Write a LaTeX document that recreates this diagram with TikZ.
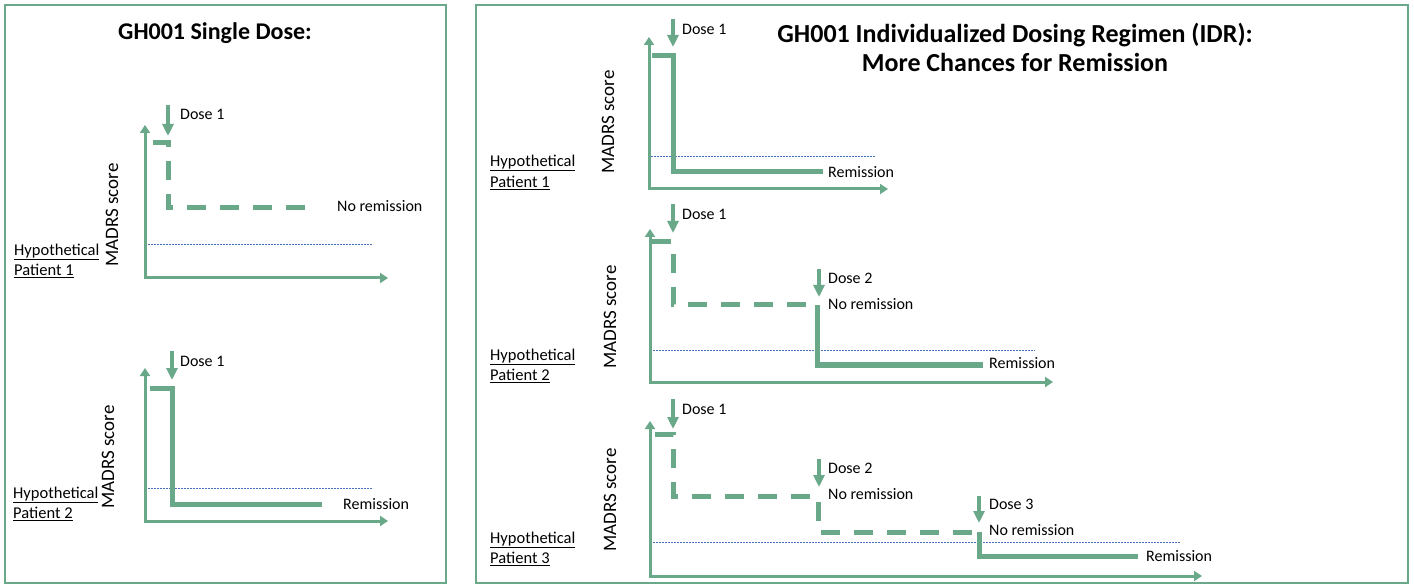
\documentclass[tikz,border=0pt]{standalone}
\usepackage{fontspec}
\setmainfont{Carlito}
\usetikzlibrary{arrows.meta}

\definecolor{madgreen}{RGB}{106,168,138}
\definecolor{cutblue}{RGB}{70,110,190}

\tikzset{
  panel/.style={draw=madgreen, line width=2pt},
  axisline/.style={draw=madgreen, line width=3pt, {Triangle[width=10pt,length=8pt]}-{Triangle[width=10pt,length=8pt]}},
  course/.style={draw=madgreen, line width=5pt},
  nocourse/.style={course, dash pattern=on 19pt off 14pt},
  dosearrow/.style={draw=madgreen, line width=3.5pt, -{Triangle[width=11pt,length=12pt]}},
  cutoff/.style={draw=cutblue, line width=0.7pt, dash pattern=on 2pt off 1pt},
  lbl/.style={anchor=west, inner sep=0pt, font=\fontsize{16}{16}\selectfont},
  ylbl/.style={rotate=90, inner sep=0pt, font=\fontsize{19}{19}\selectfont},
  ptlbl/.style={anchor=west, inner sep=0pt, font=\fontsize{16.5}{19}\selectfont},
  headline/.style={font=\fontsize{24}{29}\selectfont\bfseries, align=center}
}

\begin{document}
\begin{tikzpicture}[x=1pt,y=-1pt]
\useasboundingbox (0,0) rectangle (1414,585);

\draw[panel] (5,5) rectangle (446,583);
\draw[panel] (476,5) rectangle (1408,583);

\node[headline] (singletitle) at (215,33) {GH001 Single Dose:};
\node[headline, font=\fontsize{26}{29}\selectfont\bfseries] (idrtitle) at (1015,47.5) {GH001 Individualized Dosing Regimen (IDR):\\More Chances for Remission};

% single dose, patient 1
\draw[axisline] (145,125) -- (145,278) -- (388,278);
\draw[cutoff] (148,244) -- (373,244);
\draw[nocourse] (153,143) -- (168,143) -- (168,208) -- (310,208);
\draw[dosearrow] (168,105) -- (168,136);
\node[lbl] (sdadose) at (180,114) {Dose 1};
\node[lbl] (sdaout) at (337,206) {No remission};
\node[ylbl] (sday) at (112,215) {MADRS score};
\node[ptlbl] (sdahyp) at (14,252) {\underline{Hypothetical}};
\node[ptlbl] (sdapat) at (14,271) {\underline{Patient 1}};

% single dose, patient 2
\draw[axisline] (145,368) -- (145,521) -- (388,521);
\draw[cutoff] (148,488) -- (373,488);
\draw[course] (150,388) -- (172,388) -- (172,504) -- (322,504);
\draw[dosearrow] (172,351) -- (172,380);
\node[lbl] (sdbdose) at (180,361) {Dose 1};
\node[lbl] (sdbout) at (343,504) {Remission};
\node[ylbl] (sdby) at (108,457) {MADRS score};
\node[ptlbl] (sdbhyp) at (13,495) {\underline{Hypothetical}};
\node[ptlbl] (sdbpat) at (13,514) {\underline{Patient 2}};

% IDR, patient 1
\draw[axisline] (649,37) -- (649,189) -- (888,189);
\draw[cutoff] (651,156) -- (875,156);
\draw[course] (652,56) -- (673,56) -- (673,172) -- (823,172);
\draw[dosearrow] (673,19) -- (673,47);
\node[lbl] (idadose) at (682,29) {Dose 1};
\node[lbl] (idaout) at (828,172) {Remission};
\node[ylbl] (iday) at (608,122) {MADRS score};
\node[ptlbl] (idahyp) at (490,163) {\underline{Hypothetical}};
\node[ptlbl] (idapat) at (490,183) {\underline{Patient 1}};

% IDR, patient 2
\draw[axisline] (650,229) -- (650,382) -- (1053,382);
\draw[cutoff] (653,350) -- (1035,350);
\draw[nocourse] (652,242) -- (673,242) -- (673,305) -- (817,305);
\draw[course] (817,305) -- (817,365) -- (983,365);
\draw[dosearrow] (673,204) -- (673,233);
\draw[dosearrow] (819,269) -- (819,297);
\node[lbl] (idbdosea) at (682,214) {Dose 1};
\node[lbl] (idbdoseb) at (828,278) {Dose 2};
\node[lbl] (idbnores) at (828,304) {No remission};
\node[lbl] (idbout) at (989,363) {Remission};
\node[ylbl] (idby) at (610,317) {MADRS score};
\node[ptlbl] (idbhyp) at (490,357) {\underline{Hypothetical}};
\node[ptlbl] (idbpat) at (490,376) {\underline{Patient 2}};

% IDR, patient 3
\draw[axisline] (650,421) -- (650,576) -- (1202,576);
\draw[cutoff] (653,542) -- (1180,542);
\draw[nocourse] (655,434) -- (673,434) -- (673,496) -- (818,496) -- (818,532) -- (978,532);
\draw[course] (979,532) -- (979,556) -- (1138,556);
\draw[dosearrow] (673,399) -- (673,429);
\draw[dosearrow] (819,459) -- (819,487);
\draw[dosearrow] (979,496) -- (979,523);
\node[lbl] (idcdosea) at (682,409) {Dose 1};
\node[lbl] (idcdoseb) at (828,468) {Dose 2};
\node[lbl] (idcnoresa) at (828,494) {No remission};
\node[lbl] (idcdosec) at (989,504) {Dose 3};
\node[lbl] (idcnoresb) at (989,530) {No remission};
\node[lbl] (idcout) at (1146,556) {Remission};
\node[ylbl] (idcy) at (610,500) {MADRS score};
\node[ptlbl] (idchyp) at (490,540) {\underline{Hypothetical}};
\node[ptlbl] (idcpat) at (490,559) {\underline{Patient 3}};

\end{tikzpicture}
\end{document}
